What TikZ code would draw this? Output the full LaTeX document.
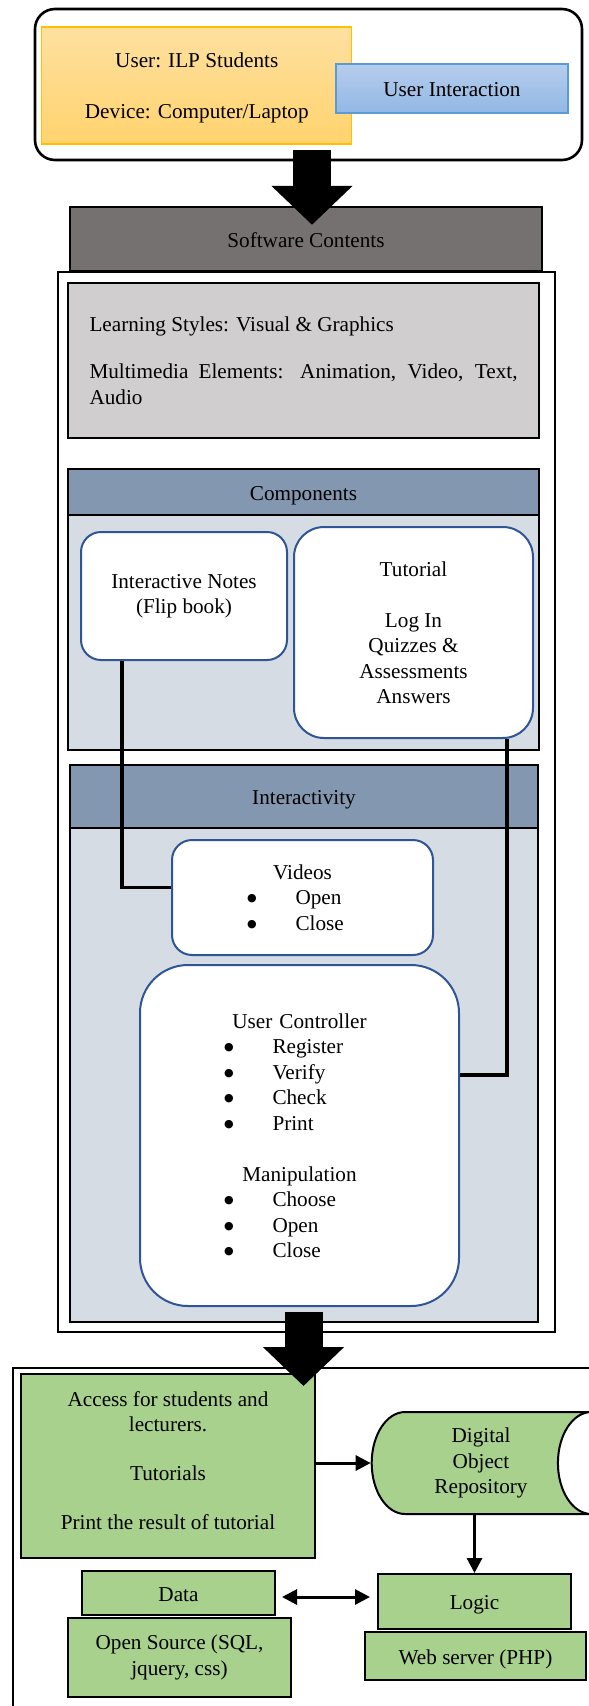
\documentclass[tikz,border=0pt]{standalone}
\usepackage{fontspec}
\setmainfont{Liberation Serif}
\newfontfamily\dotfont{DejaVu Sans}
\usepackage{xcolor}
\usepackage{tikz}
\usetikzlibrary{arrows.meta, shapes.geometric}

\definecolor{orangetop}{RGB}{254,224,160}
\definecolor{orangebot}{RGB}{255,211,110}
\definecolor{orangeline}{RGB}{255,192,0}
\definecolor{bluetop}{RGB}{182,205,236}
\definecolor{bluebot}{RGB}{146,183,228}
\definecolor{blueline}{RGB}{91,155,213}
\definecolor{darkgrey}{RGB}{117,113,113}
\definecolor{lightgrey}{RGB}{208,206,206}
\definecolor{headblue}{RGB}{132,151,176}
\definecolor{bodyblue}{RGB}{214,220,228}
\definecolor{roundline}{RGB}{47,85,151}
\definecolor{leafgreen}{RGB}{169,209,142}

\newcommand{\bul}[2]{\hspace*{#1}\makebox[47.5pt][l]{\hspace*{-1pt}\raisebox{3pt}{\dotfont\fontsize{11}{11}\selectfont ●}}#2}

\begin{document}
\begin{tikzpicture}[x=1pt, y=-1pt,
		every node/.style={inner sep=0pt, font=\fontsize{21.2}{25.5}\selectfont},
		oneline/.style={text height=16pt, text depth=0pt},
		frame/.style={draw=black, line width=2.6pt, fill=white},
		block/.style={draw=black, line width=2.4pt},
		rbox/.style={draw=roundline, line width=2pt, fill=white, align=center},
		greenbox/.style={draw=black, line width=2pt, fill=leafgreen, align=center},
		link/.style={line width=3.2pt},
		arr/.style={line width=3pt, -{Triangle[length=15pt,width=15pt]}},
		dblarr/.style={line width=3pt, {Triangle[length=15pt,width=15pt]}-{Triangle[length=15pt,width=15pt]}},
		bigarrow/.style={line width=38pt, -{Triangle[length=39pt,width=79pt]}}]
			\useasboundingbox (0,0) rectangle (589,1706);
			\clip (0,0) rectangle (589,1706);
			\node[frame, rounded corners=20pt, minimum width=547pt, minimum height=151pt] (topbox) at (308.5,84.5) {};
			\node[draw=orangeline, line width=1.3pt, top color=orangetop, bottom color=orangebot, minimum width=310pt, minimum height=117pt, align=center] (user) at (196.8,85.5) {\mbox{}\\[-5pt]User: ILP Students\\[25.5pt]Device: Computer/Laptop};
			\node[draw=blueline, line width=1.3pt, top color=bluetop, bottom color=bluebot, minimum width=232pt, minimum height=49pt, oneline] (interact) at (452,88.5) {User Interaction};
			\node[block, fill=darkgrey, minimum width=472pt, minimum height=64pt, oneline] (softc) at (306,239) {Software Contents};
			\node[frame, minimum width=497pt, minimum height=1060pt] (bigframe) at (306.5,802) {};
			\node[block, fill=lightgrey, minimum width=471pt, minimum height=155pt, text width=428pt, align=justify] (styles) at (303.5,360.5) {Learning Styles: Visual \& Graphics\par\vspace{22pt}Multimedia Elements: Animation, Video, Text,\linebreak Audio};
			\node[block, fill=bodyblue, minimum width=471pt, minimum height=281pt] (comp) at (303.5,609.5) {};
			\node[block, fill=headblue, minimum width=471pt, minimum height=46pt, oneline] (comphead) at (303.5,492) {Components};
			\node[rbox, rounded corners=20pt, minimum width=206pt, minimum height=128pt] (notes) at (184,596) {Interactive Notes\\(Flip book)};
			\node[rbox, rounded corners=30pt, minimum width=239pt, minimum height=211pt] (tutorial) at (413.5,632.5) {Tutorial\\[25.5pt]Log In\\Quizzes \&\\Assessments\\Answers};
			\node[block, fill=bodyblue, minimum width=468pt, minimum height=557pt] (inter) at (304,1043.5) {};
			\node[block, fill=headblue, minimum width=468pt, minimum height=63pt, oneline] (interhead) at (304,796.5) {Interactivity};
			\node[rbox, rounded corners=20pt, minimum width=261pt, minimum height=115pt, text width=261pt, align=left] (videos) at (302.5,897.5) {\makebox[261pt][c]{Videos}\\\bul{76pt}{Open}\\\bul{76pt}{Close}};
			\node[rbox, rounded corners=48pt, minimum width=319pt, minimum height=341pt, text width=319pt, align=left] (uc) at (299.5,1135.5) {\makebox[319pt][c]{User Controller}\\\bul{85pt}{Register}\\\bul{85pt}{Verify}\\\bul{85pt}{Check}\\\bul{85pt}{Print}\\[25.5pt]\makebox[319pt][c]{Manipulation}\\\bul{85pt}{Choose}\\\bul{85pt}{Open}\\\bul{85pt}{Close}};
			\draw[link] ([xshift=-62pt]notes.south) |- ([yshift=10pt]videos.west);
			\draw[link] ([xshift=93.5pt]tutorial.south) |- ([yshift=60.5pt]uc.east);
			\draw[bigarrow] ([xshift=3.5pt,yshift=11pt]topbox.south) -- ([xshift=6pt,yshift=-19pt]softc.north);
			\node[frame, line width=2.3pt, anchor=north west, minimum width=600pt, minimum height=360pt] (platform) at (12,1367) {};
			\node[greenbox, minimum width=294pt, minimum height=184pt] (access) at (168,1466) {Access for students and\\lecturers.\\[23.5pt]Tutorials\\[23.5pt]Print the result of tutorial\\[-15pt]\mbox{}};
			\node[draw=black, line width=2pt, cylinder, cylinder uses custom fill, cylinder body fill=leafgreen, cylinder end fill=white, aspect=0.95, minimum width=102pt, minimum height=253pt, align=center] (repo) at (481,1463) {Digital\\Object\\Repository};
			\node[greenbox, minimum width=193pt, minimum height=55pt, oneline] (logic) at (474.5,1601.5) {Logic};
			\node[greenbox, minimum width=221pt, minimum height=48pt, oneline] (webserver) at (475.5,1656) {Web server (PHP)};
			\node[greenbox, minimum width=193pt, minimum height=44pt, oneline] (data) at (178.5,1593) {Data};
			\node[greenbox, minimum width=223pt, minimum height=79pt] (opensource) at (179.5,1657.5) {Open Source (SQL,\\jquery, css)};
			\coordinate (dl) at ([yshift=-4pt]data.east);
			\draw[arr] (repo.west -| access.east) -- (repo.west);
			\draw[arr] (logic.north |- repo.south) -- (logic.north);
			\draw[dblarr, shorten <=6pt, shorten >=7pt] (dl) -- (dl -| logic.west);
			\draw[bigarrow] ([xshift=-3pt,yshift=21pt]bigframe.south) -- ([xshift=135.5pt,yshift=-13pt]access.north);
		\end{tikzpicture}
\end{document}
